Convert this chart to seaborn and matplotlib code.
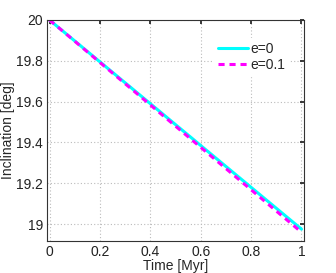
import matplotlib
matplotlib.use("Agg")
import matplotlib.pyplot as plt
import seaborn as sns
import pandas as pd
import numpy as np

time_myr = [0.0, 0.2, 0.4, 0.6, 0.8, 1.0]
incl_e0 = [20.0, 19.795, 19.59, 19.385, 19.18, 18.975]
incl_e01 = [20.0, 19.792, 19.584, 19.376, 19.168, 18.96]
labels = ["e=0", "e=0.1"]
xticks = [0, 0.2, 0.4, 0.6, 0.8, 1]
yticks = [19, 19.2, 19.4, 19.6, 19.8, 20]

sns.set_theme(style="white")
plt.rcParams['font.family'] = ['Liberation Sans', 'DejaVu Sans']

df = pd.DataFrame({
    "Time": time_myr * 2,
    "Inclination": incl_e0 + incl_e01,
    "Case": [labels[0]] * len(time_myr) + [labels[1]] * len(time_myr),
})

fig = plt.figure(figsize=(3.36, 2.73), dpi=100)
ax = fig.add_axes([47/336, 1 - 241/273, (304-47)/336, (241-20)/273])

sns.lineplot(data=df[df.Case == labels[0]], x="Time", y="Inclination", ax=ax,
             color="#00ffff", lw=2.2, label=labels[0])
sns.lineplot(data=df[df.Case == labels[1]], x="Time", y="Inclination", ax=ax,
             color="#ff00ff", lw=2.2, ls=(0, (2, 1.6)), label=labels[1])

ax.set_xlim(-0.01, 1.01)
ax.set_ylim(18.917, 20.0)
ax.set_xticks(xticks)
ax.set_xticklabels(["0", "0.2", "0.4", "0.6", "0.8", "1"])
ax.set_yticks(yticks)
ax.set_yticklabels(["19", "19.2", "19.4", "19.6", "19.8", "20"])
ax.tick_params(direction="in", length=3, labelsize=10, colors="#222222",
               top=True, right=True, pad=3)
ax.grid(True, ls=(0, (1, 2)), color="#bbbbbb", lw=0.8)
for s in ax.spines.values():
    s.set_color("#333333")
    s.set_linewidth(0.8)
ax.set_xlabel("Time [Myr]", fontsize=10, labelpad=0)
ax.set_ylabel("Inclination [deg]", fontsize=10, labelpad=1)
leg = ax.legend(loc="upper right", bbox_to_anchor=(0.97, 0.95), frameon=True,
                fontsize=10, handlelength=2.1, handletextpad=0.2,
                labelspacing=0.1, borderpad=0.3)
leg.get_frame().set_edgecolor("white")
leg.get_frame().set_facecolor("white")
leg.get_frame().set_alpha(1)

fig.savefig("out.png", dpi=100)
